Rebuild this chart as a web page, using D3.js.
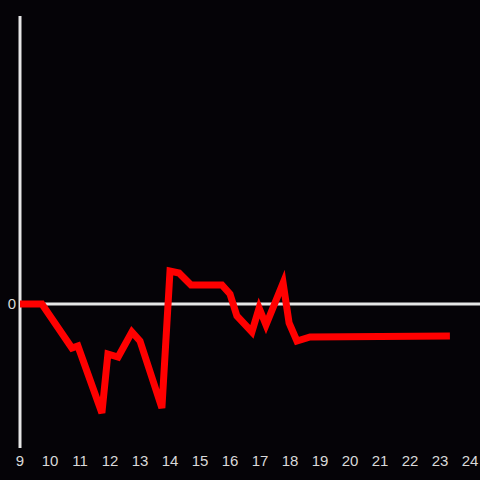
<!DOCTYPE html>
<html>
<head>
<meta charset="utf-8">
<script src="https://cdn.jsdelivr.net/npm/d3@7"></script>
<style>
  body { margin: 0; background: #050307; }
  svg { display: block; }
</style>
</head>
<body>
<div id="chart"></div>
<script>
var hours = [9, 9.73, 10.73, 10.93, 11.73, 11.93, 12.27, 12.73, 13.0, 13.73, 14.0, 14.3, 14.7,
  15.73, 16.0, 16.23, 16.73, 16.97, 17.2, 17.77, 17.97, 18.23, 18.67, 23.33];
var values = [0, 0, -4.4, -4.2, -10.9, -5.0, -5.3, -2.8, -3.7, -10.4, 3.3, 3.1, 1.9,
  1.9, 1.0, -1.2, -2.8, -0.4, -2.1, 2.1, -1.9, -3.7, -3.3, -3.2];
var xTicks = [9, 10, 11, 12, 13, 14, 15, 16, 17, 18, 19, 20, 21, 22, 23, 24];
var yTicks = [0];

var width = 480, height = 480;

var svg = d3.select("#chart")
  .append("svg")
  .attr("width", width)
  .attr("height", height);

svg.append("rect")
  .attr("width", width)
  .attr("height", height)
  .attr("fill", "#050307");

var x = d3.scaleLinear().domain([9, 24]).range([20, 470]);
var y = d3.scaleLinear().domain([-14.4, 28.8]).range([448, 16]);

// y axis line
svg.append("line")
  .attr("x1", 20).attr("x2", 20)
  .attr("y1", 16).attr("y2", 448)
  .attr("stroke", "#e6e6e6")
  .attr("stroke-width", 3);

// zero line
svg.selectAll(".zero")
  .data(yTicks)
  .enter().append("line")
  .attr("x1", 20).attr("x2", 480)
  .attr("y1", function(d) { return y(d); })
  .attr("y2", function(d) { return y(d); })
  .attr("stroke", "#e6e6e6")
  .attr("stroke-width", 3);

svg.selectAll(".ylab")
  .data(yTicks)
  .enter().append("text")
  .attr("x", 16)
  .attr("y", function(d) { return y(d); })
  .attr("dy", "0.35em")
  .attr("text-anchor", "end")
  .attr("font-family", "Liberation Sans, Arial, sans-serif")
  .attr("font-size", "15px")
  .attr("fill", "#d9d9d9")
  .text(function(d) { return d; });

svg.selectAll(".xlab")
  .data(xTicks)
  .enter().append("text")
  .attr("x", function(d) { return x(d); })
  .attr("y", 466)
  .attr("text-anchor", "middle")
  .attr("font-family", "Liberation Sans, Arial, sans-serif")
  .attr("font-size", "15px")
  .attr("fill", "#d9d9d9")
  .text(function(d) { return d; });

var line = d3.line()
  .x(function(d, i) { return x(hours[i]); })
  .y(function(d) { return y(d); });

svg.append("path")
  .datum(values)
  .attr("d", line)
  .attr("fill", "none")
  .attr("stroke", "#ff0000")
  .attr("stroke-width", 7)
  .attr("stroke-linejoin", "miter");
</script>
</body>
</html>
